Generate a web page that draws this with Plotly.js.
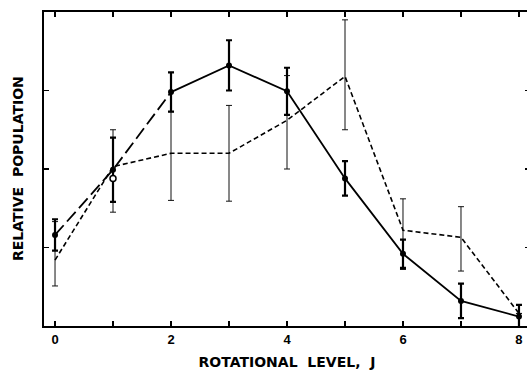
<!DOCTYPE html>
<html>
<head>
<meta charset="utf-8">
<script src="https://cdn.plot.ly/plotly-3.0.1.min.js"></script>
<style>html,body{margin:0;padding:0;background:#fff;overflow:hidden}#chart{width:527px;height:371px}</style>
</head>
<body>
<div id="chart"></div>
<script>
// Rotational level J
const levels = [0, 1, 2, 3, 4, 5, 6, 7, 8];
// Solid series (filled dots)
const solidPop = [1.16, 1.99, 2.98, 3.32, 2.99, 1.88, 0.92, 0.32, 0.12];
const solidErr = [0.20, 0.41, 0.25, 0.32, 0.30, 0.22, 0.18, 0.22, 0.15];
// Short-dashed series
const dashPop = [0.84, 2.03, 2.20, 2.20, 2.62, 3.18, 1.22, 1.13, 0.16];
const dashErrPlus = [0.49, 0.47, 0.53, 0.61, 0.57, 0.72, 0.40, 0.39, 0];
const dashErrMinus = [0.33, 0.58, 0.60, 0.61, 0.62, 0.68, 0.50, 0.43, 0];
// Open circle point
const openX = [1];
const openY = [1.88];
// Tick labels
const xTickVals = [0, 1, 2, 3, 4, 5, 6, 7, 8];
const xTickText = ['0', '', '2', '', '4', '', '6', '', '8'];
const yTickVals = [1, 2, 3];

const traces = [
  {
    x: levels, y: dashPop, mode: 'lines', type: 'scatter',
    line: {color: '#000', width: 1.6, dash: '5px,3px'},
    error_y: {type: 'data', symmetric: false, array: dashErrPlus, arrayminus: dashErrMinus,
      color: '#111', thickness: 1, width: 3}
  },
  {
    x: levels.slice(0, 3), y: solidPop.slice(0, 3), mode: 'lines', type: 'scatter',
    line: {color: '#000', width: 1.8, dash: '13px,5px'}
  },
  {
    x: levels.slice(2), y: solidPop.slice(2), mode: 'lines', type: 'scatter',
    line: {color: '#000', width: 1.8}
  },
  {
    x: levels, y: solidPop, mode: 'markers', type: 'scatter',
    marker: {color: '#000', size: 6},
    error_y: {type: 'data', array: solidErr, color: '#000', thickness: 2.2, width: 3}
  },
  {
    x: openX, y: openY, mode: 'markers', type: 'scatter',
    marker: {color: '#fff', size: 6, line: {color: '#000', width: 1.5}}
  }
];

const layout = {
  width: 530, height: 371,
  margin: {l: 44, r: 0, t: 12, b: 45},
  paper_bgcolor: '#fff', plot_bgcolor: '#fff',
  showlegend: false,
  font: {family: 'Liberation Sans, Arial, sans-serif', color: '#000'},
  xaxis: {
    range: [-0.19, 8.19], tickvals: xTickVals, ticktext: xTickText,
    ticks: 'inside', ticklen: 5, tickwidth: 1.2, tickcolor: '#000',
    showline: true, linecolor: '#000', linewidth: 2.2, mirror: 'ticks',
    showgrid: false, zeroline: false,
    tickfont: {size: 13, family: 'Liberation Sans, Arial, sans-serif', weight: 'bold'},
    title: {text: 'ROTATIONAL  LEVEL,  J', standoff: 12,
      font: {size: 14, family: 'DejaVu Sans, sans-serif', weight: 'bold'}}
  },
  yaxis: {
    range: [0, 4], tickvals: yTickVals, showticklabels: false,
    ticks: 'inside', ticklen: 5, tickwidth: 1.2, tickcolor: '#000',
    showline: true, linecolor: '#000', linewidth: 2.2, mirror: 'ticks',
    showgrid: false, zeroline: false
  },
  annotations: [{
    text: 'RELATIVE  POPULATION', xref: 'paper', yref: 'paper', x: 0, y: 0.5,
    xanchor: 'center', yanchor: 'middle', xshift: -26, textangle: -90, showarrow: false,
    font: {size: 14, family: 'DejaVu Sans, sans-serif', weight: 'bold', color: '#000'}
  }]
};

Plotly.newPlot('chart', traces, layout, {staticPlot: true, displayModeBar: false});
</script>
</body>
</html>
